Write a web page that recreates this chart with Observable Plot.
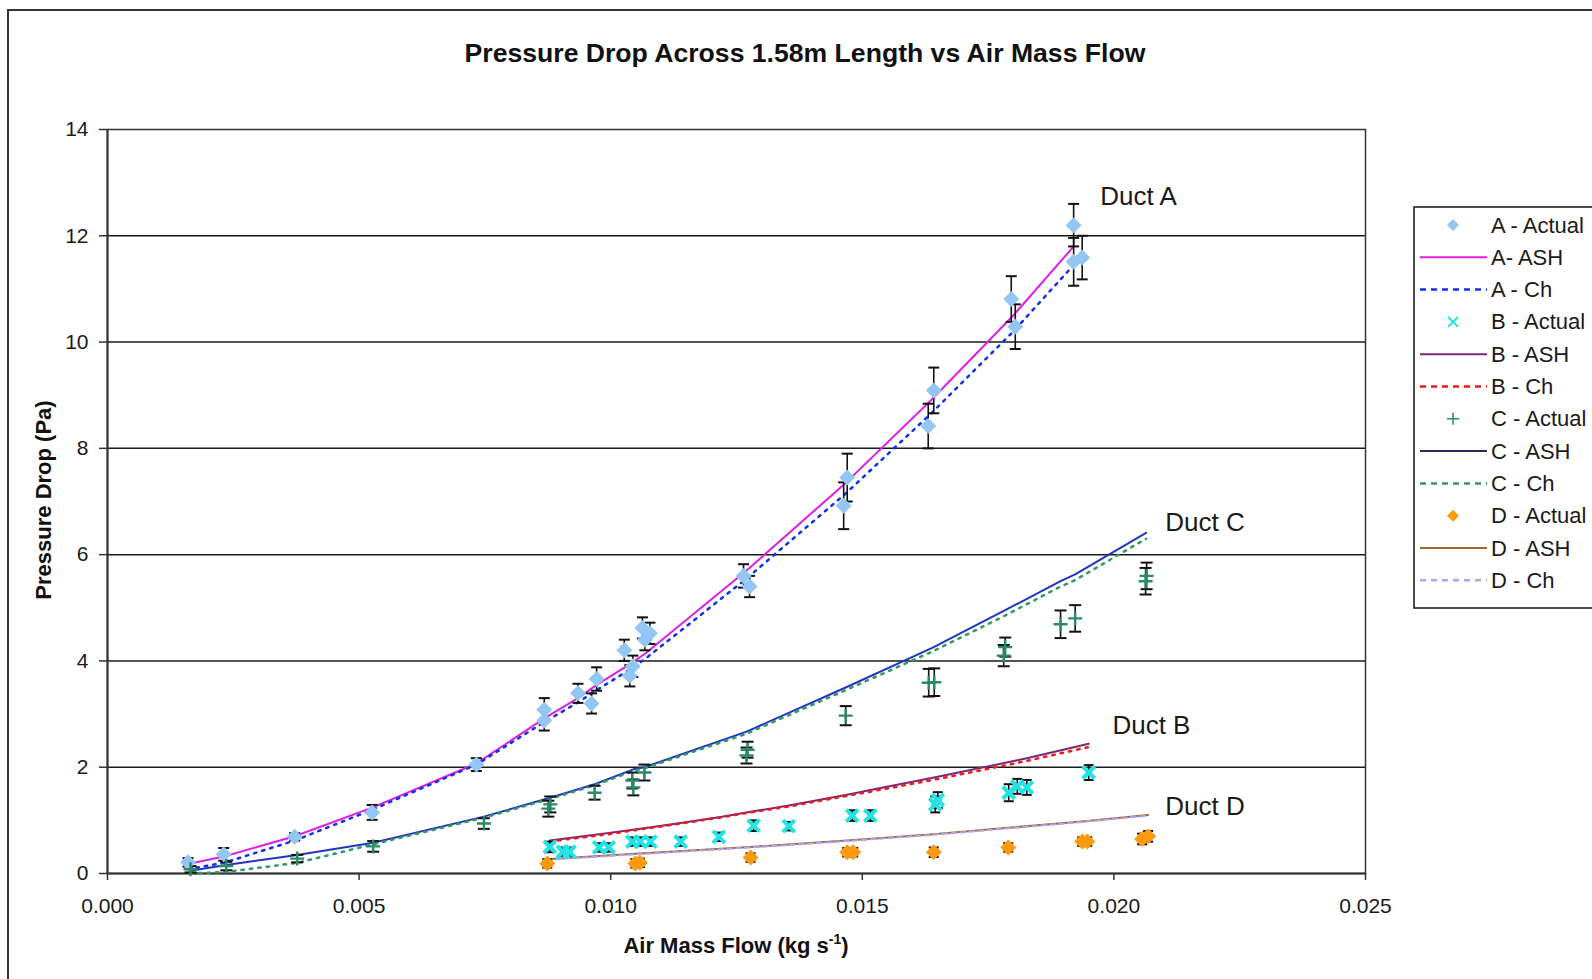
<!DOCTYPE html>
<html>
<head>
<meta charset="utf-8">
<script src="https://cdn.jsdelivr.net/npm/d3@7"></script>
<script src="https://cdn.jsdelivr.net/npm/@observablehq/plot@0.6"></script>
<style>
  html, body { margin: 0; padding: 0; background: #fff; }
  #chart svg { display: block; }
</style>
</head>
<body>
<div id="chart"></div>
<script>
// ---------- Data ----------
const titleText = "Pressure Drop Across 1.58m Length vs Air Mass Flow";
const xTicks = [0, 0.005, 0.010, 0.015, 0.020, 0.025];
const yTicks = [0, 2, 4, 6, 8, 10, 12, 14];
const gridValues = [2, 4, 6, 8, 10, 12];

// Duct A measured
const aFlow = [0.00160, 0.00231, 0.00372, 0.00526, 0.00733, 0.00868, 0.00868, 0.00935, 0.00962, 0.00972,
               0.01027, 0.01038, 0.01044, 0.01063, 0.01078, 0.01068, 0.01264, 0.01276, 0.01463, 0.01470,
               0.01631, 0.01642, 0.01796, 0.01804, 0.01920, 0.01920, 0.01937];
const aDrop = [0.21, 0.36, 0.69, 1.15, 2.05, 3.08, 2.88, 3.39, 3.20, 3.66,
               4.20, 3.72, 3.90, 4.62, 4.52, 4.40, 5.60, 5.40, 6.92, 7.45,
               8.42, 9.09, 10.81, 10.29, 12.20, 11.51, 11.59];
const aErr  = [0.08, 0.12, 0.07, 0.14, 0.12, 0.22, 0.19, 0.18, 0.19, 0.22,
               0.20, 0.20, 0.20, 0.20, 0.20, 0.20, 0.22, 0.20, 0.44, 0.45,
               0.42, 0.43, 0.43, 0.42, 0.40, 0.45, 0.41];
// Duct A models
const aModelFlow = [0.00160, 0.00231, 0.00372, 0.00526, 0.00733, 0.00868, 0.00935, 0.00972, 0.01040, 0.01070,
                    0.01270, 0.01467, 0.01636, 0.01800, 0.01920];
const aAsh = [0.18, 0.32, 0.70, 1.24, 2.07, 2.92, 3.30, 3.55, 3.95, 4.15, 5.70, 7.35, 8.90, 10.50, 11.80];
const aCh  = [0.08, 0.20, 0.62, 1.20, 2.05, 2.85, 3.22, 3.45, 3.85, 4.05, 5.55, 7.15, 8.65, 10.20, 11.45];

// Duct B measured
const bFlow = [0.00879, 0.00905, 0.00918, 0.00977, 0.00996, 0.01043, 0.01059, 0.01079, 0.01139, 0.01215,
               0.01284, 0.01354, 0.01480, 0.01516, 0.01645, 0.01650, 0.01791, 0.01808, 0.01827, 0.01950];
const bDrop = [0.50, 0.41, 0.41, 0.49, 0.49, 0.60, 0.60, 0.60, 0.60, 0.69,
               0.90, 0.89, 1.09, 1.09, 1.30, 1.38, 1.52, 1.64, 1.62, 1.90];
const bErr  = [0.10, 0.08, 0.08, 0.08, 0.08, 0.08, 0.08, 0.08, 0.08, 0.08,
               0.10, 0.08, 0.10, 0.10, 0.15, 0.15, 0.16, 0.14, 0.14, 0.14];
const bModelFlow = [0.00879, 0.00918, 0.00996, 0.01059, 0.01139, 0.01215, 0.01284, 0.01354, 0.01480, 0.01516,
                    0.01645, 0.01808, 0.01827, 0.01950];
const bAsh = [0.62, 0.67, 0.76, 0.84, 0.95, 1.06, 1.17, 1.28, 1.50, 1.57, 1.81, 2.13, 2.17, 2.44];
const bCh  = [0.60, 0.65, 0.74, 0.83, 0.94, 1.05, 1.16, 1.26, 1.48, 1.54, 1.77, 2.08, 2.12, 2.38];

// Duct C measured
const cFlow = [0.00165, 0.00236, 0.00377, 0.00528, 0.00748, 0.00876, 0.00880, 0.00968, 0.01045, 0.01043,
               0.01067, 0.01270, 0.01272, 0.01467, 0.01632, 0.01643, 0.01781, 0.01784, 0.01894, 0.01923,
               0.02063, 0.02065];
const cDrop = [0.08, 0.14, 0.28, 0.51, 0.94, 1.22, 1.30, 1.52, 1.62, 1.75,
               1.90, 2.22, 2.33, 2.97, 3.59, 3.60, 4.10, 4.26, 4.69, 4.80,
               5.50, 5.60];
const cErr  = [0.06, 0.08, 0.07, 0.10, 0.10, 0.15, 0.15, 0.13, 0.15, 0.15,
               0.15, 0.15, 0.15, 0.18, 0.26, 0.26, 0.20, 0.18, 0.26, 0.25,
               0.25, 0.25];
const cModelFlow = [0.00165, 0.00236, 0.00377, 0.00528, 0.00748, 0.00878, 0.00968, 0.01045, 0.01067, 0.01270,
                    0.01467, 0.01640, 0.01783, 0.01894, 0.01923, 0.02064];
const cAsh = [0.05, 0.16, 0.35, 0.58, 1.07, 1.42, 1.68, 1.96, 2.00, 2.67, 3.50, 4.25, 4.95, 5.50, 5.63, 6.41];
const cCh  = [0.00, 0.03, 0.20, 0.55, 1.05, 1.40, 1.66, 1.93, 1.98, 2.63, 3.45, 4.18, 4.85, 5.40, 5.52, 6.30];

// Duct D measured
const dFlow = [0.00874, 0.01049, 0.01058, 0.01278, 0.01470, 0.01482, 0.01642, 0.01790, 0.01937, 0.01947, 0.02056, 0.02068];
const dDrop = [0.19, 0.19, 0.20, 0.30, 0.40, 0.40, 0.40, 0.49, 0.60, 0.60, 0.65, 0.70];
const dErr  = [0.08, 0.08, 0.08, 0.08, 0.08, 0.08, 0.09, 0.08, 0.08, 0.08, 0.10, 0.10];
const dModelFlow = [0.00874, 0.01049, 0.01278, 0.01470, 0.01642, 0.01790, 0.01937, 0.02068];
const dAsh = [0.27, 0.37, 0.50, 0.62, 0.74, 0.86, 0.98, 1.10];
const dCh  = [0.26, 0.36, 0.49, 0.61, 0.73, 0.85, 0.97, 1.09];

// Annotations
const ductLabelText = ["Duct A", "Duct C", "Duct B", "Duct D"];
const ductLabelFlow = [0.01973, 0.02102, 0.01997, 0.02102];
const ductLabelDrop = [12.73, 6.60, 2.78, 1.25];

const legendNames = ["A - Actual", "A- ASH", "A - Ch", "B - Actual", "B - ASH", "B - Ch",
                     "C - Actual", "C - ASH", "C - Ch", "D - Actual", "D - ASH", "D - Ch"];

// ---------- Styles ----------
const COL = {
  aPt: "#93c6f4", aAsh: "#e01ee0", aCh: "#1030f0",
  bPt: "#22e4e4", bAsh: "#7a2878", bCh: "#f01818",
  cPt: "#2a8a66", cAsh: "#2234c0", cCh: "#2f9a62",
  dPt: "#ff9a10", dAsh: "#9a6a34", dCh: "#b4a0f4"
};
const FONT = "'Liberation Sans', Arial, Helvetica, sans-serif";

// custom symbols (r = half extent)
const diamondSym = { draw(ctx, size) { const r = Math.sqrt(size / Math.PI);
  ctx.moveTo(0, -r); ctx.lineTo(r, 0); ctx.lineTo(0, r); ctx.lineTo(-r, 0); ctx.closePath(); } };
const capSym = { draw(ctx, size) { const r = Math.sqrt(size / Math.PI);
  ctx.moveTo(-r, 0); ctx.lineTo(r, 0); } };
const xSym = { draw(ctx, size) { const r = Math.sqrt(size / Math.PI);
  ctx.moveTo(-r, -r); ctx.lineTo(r, r); ctx.moveTo(r, -r); ctx.lineTo(-r, r); } };
const plusSym = { draw(ctx, size) { const r = Math.sqrt(size / Math.PI);
  ctx.moveTo(-r, 0); ctx.lineTo(r, 0); ctx.moveTo(0, -r); ctx.lineTo(0, r); } };

// ---------- Build tables ----------
const pts = (xs, ys, es) => xs.map((x, i) => ({x, y: ys[i], e: es[i]}));
const line = (xs, ys) => xs.map((x, i) => ({x, y: ys[i]}));
const A = pts(aFlow, aDrop, aErr), B = pts(bFlow, bDrop, bErr),
      C = pts(cFlow, cDrop, cErr), D = pts(dFlow, dDrop, dErr);
const labels = ductLabelText.map((t, i) => ({t, x: ductLabelFlow[i], y: ductLabelDrop[i]}));

function errMarks(data, capR, capW) {
  return [
    Plot.ruleX(data, {x: "x", y1: d => d.y - d.e, y2: d => d.y + d.e, stroke: "#111", strokeWidth: 1.6}),
    Plot.dot(data, {x: "x", y: d => d.y + d.e, symbol: capSym, r: capR, fill: "none", stroke: "#111", strokeWidth: capW}),
    Plot.dot(data, {x: "x", y: d => d.y - d.e, symbol: capSym, r: capR, fill: "none", stroke: "#111", strokeWidth: capW})
  ];
}

const chart = Plot.plot({
  width: 1592, height: 979,
  marginLeft: 107, marginRight: 227, marginTop: 129, marginBottom: 106,
  x: {domain: [0, 0.025]},
  y: {domain: [0, 14]},
  style: {fontFamily: FONT, fontSize: "21px", color: "#1a1a1a", background: "transparent", overflow: "visible"},
  marks: [
    Plot.ruleY(gridValues, {stroke: "#1a1a1a", strokeWidth: 1.5}),
    Plot.frame({stroke: "#333", strokeWidth: 1.5}),
    Plot.axisX({ticks: xTicks, tickFormat: d3.format(".3f"), tickSize: 7, tickPadding: 18, label: null, fontSize: 21, stroke: "#333", strokeWidth: 1.5}),
    Plot.axisY({ticks: yTicks, tickSize: 8, tickPadding: 11, label: null, fontSize: 21, stroke: "#333", strokeWidth: 1.5}),
    Plot.ruleX([0], {stroke: "#333", strokeWidth: 2}),
    Plot.ruleY([0], {stroke: "#333", strokeWidth: 2}),
    // model lines
    Plot.line(line(aModelFlow, aAsh), {x: "x", y: "y", stroke: COL.aAsh, strokeWidth: 2}),
    Plot.line(line(aModelFlow, aCh), {x: "x", y: "y", stroke: COL.aCh, strokeWidth: 2.5, strokeDasharray: "2.5,6"}),
    Plot.line(line(bModelFlow, bAsh), {x: "x", y: "y", stroke: COL.bAsh, strokeWidth: 2}),
    Plot.line(line(bModelFlow, bCh), {x: "x", y: "y", stroke: COL.bCh, strokeWidth: 2.5, strokeDasharray: "2.5,6"}),
    Plot.line(line(cModelFlow, cAsh), {x: "x", y: "y", stroke: COL.cAsh, strokeWidth: 2}),
    Plot.line(line(cModelFlow, cCh), {x: "x", y: "y", stroke: COL.cCh, strokeWidth: 2.5, strokeDasharray: "2.5,6"}),
    Plot.line(line(dModelFlow, dAsh), {x: "x", y: "y", stroke: COL.dAsh, strokeWidth: 2}),
    Plot.line(line(dModelFlow, dCh), {x: "x", y: "y", stroke: COL.dCh, strokeWidth: 2, strokeDasharray: "5,4"}),
    // error bars
    ...errMarks(A, 5.5, 2),
    ...errMarks(C, 6, 2),
    ...errMarks(B, 5, 2),
    ...errMarks(D, 5, 2),
    // measured points
    Plot.dot(A, {x: "x", y: "y", symbol: diamondSym, r: 8, fill: COL.aPt, stroke: "none"}),
    Plot.dot(C, {x: "x", y: "y", symbol: plusSym, r: 7, fill: "none", stroke: COL.cPt, strokeWidth: 2.4}),
    Plot.dot(B, {x: "x", y: "y", symbol: xSym, r: 6, fill: "none", stroke: COL.bPt, strokeWidth: 4}),
    Plot.dot(D, {x: "x", y: "y", symbol: diamondSym, r: 8, fill: COL.dPt, stroke: "none"}),
    // duct labels
    Plot.text(labels, {x: "x", y: "y", text: "t", textAnchor: "start", fontSize: 26, fill: "#1a1a1a"})
  ]
});

document.getElementById("chart").appendChild(chart);

// ---------- Title, axis titles, border, legend ----------
const svg = d3.select(chart);

svg.append("path").attr("d", "M8,979V10H1592").attr("fill", "none").attr("stroke", "#333").attr("stroke-width", 2);

svg.append("text").attr("x", 805).attr("y", 53).attr("text-anchor", "middle").attr("dominant-baseline", "central")
  .attr("font-family", FONT).attr("font-weight", "bold").attr("font-size", 26.6).attr("fill", "#111").text(titleText);

svg.append("text").attr("transform", "translate(43,500) rotate(-90)").attr("text-anchor", "middle")
  .attr("dominant-baseline", "central").attr("font-family", FONT).attr("font-weight", "bold").attr("font-size", 22)
  .attr("fill", "#111").text("Pressure Drop (Pa)");

const xl = svg.append("text").attr("x", 736).attr("y", 953).attr("text-anchor", "middle")
  .attr("font-family", FONT).attr("font-weight", "bold").attr("font-size", 22).attr("fill", "#111");
xl.append("tspan").text("Air Mass Flow (kg s");
xl.append("tspan").attr("font-size", 14).attr("dy", -9).text("-1");
xl.append("tspan").attr("dy", 9).text(")");

// legend
const lg = svg.append("g");
lg.append("rect").attr("x", 1414).attr("y", 207).attr("width", 200).attr("height", 401)
  .attr("fill", "#fff").attr("stroke", "#222").attr("stroke-width", 1.6);
const legendKinds = [
  {type: "pt", sym: diamondSym, r: 6, fill: COL.aPt},
  {type: "ln", stroke: COL.aAsh},
  {type: "ln", stroke: COL.aCh, dash: "6,5", w: 2.5},
  {type: "pt", sym: xSym, r: 5, stroke: COL.bPt, sw: 2},
  {type: "ln", stroke: COL.bAsh},
  {type: "ln", stroke: COL.bCh, dash: "6,5", w: 2.5},
  {type: "pt", sym: plusSym, r: 6, stroke: COL.cPt, sw: 1.5},
  {type: "ln", stroke: "#2a2a60"},
  {type: "ln", stroke: COL.cCh, dash: "6,5", w: 2.5},
  {type: "pt", sym: diamondSym, r: 6, fill: COL.dPt},
  {type: "ln", stroke: COL.dAsh},
  {type: "ln", stroke: COL.dCh, dash: "6,5", w: 2.5}
];
legendNames.forEach((name, i) => {
  const y = 225 + i * 32.3;
  const k = legendKinds[i];
  if (k.type === "ln") {
    lg.append("line").attr("x1", 1420).attr("x2", 1487).attr("y1", y).attr("y2", y)
      .attr("stroke", k.stroke).attr("stroke-width", k.w || 2).attr("stroke-dasharray", k.dash || null);
  } else {
    lg.append("path").attr("transform", `translate(1453,${y})`)
      .attr("d", d3.symbol(k.sym, Math.PI * k.r * k.r)())
      .attr("fill", k.fill || "none").attr("stroke", k.stroke || "none").attr("stroke-width", k.sw || 0);
  }
  lg.append("text").attr("x", 1491).attr("y", y).attr("text-anchor", "start").attr("dominant-baseline", "central")
    .attr("font-family", FONT).attr("font-size", 22).attr("fill", "#1a1a1a").text(name);
});
</script>
</body>
</html>
